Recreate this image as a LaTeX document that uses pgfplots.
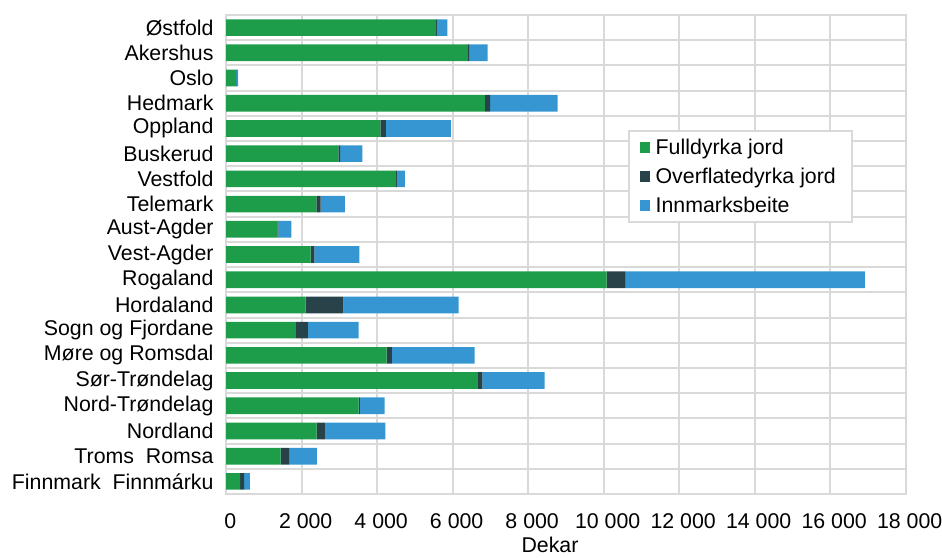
\documentclass[border=0pt]{standalone}
\usepackage{fontspec}
\setmainfont{Liberation Sans}
\usepackage{pgfplots}
\usepackage{pgfplotstable}
\pgfplotsset{compat=1.18}
\definecolor{cgreen}{RGB}{29,156,74}
\definecolor{cdark}{RGB}{40,66,73}
\definecolor{cblue}{RGB}{53,150,210}
\definecolor{cgrid}{RGB}{217,217,217}
\pgfplotstableread{
idx full over innm
1 5558 20 280
2 6405 30 490
3 260 5 50
4 6855 140 1785
5 4082 150 1722
6 2970 45 592
7 4499 25 210
8 2387 116 644
9 1354 26 345
10 2238 96 1193
11 10079 504 6339
12 2105 998 3055
13 1849 318 1342
14 4251 141 2190
15 6670 115 1652
16 3509 35 654
17 2397 220 1597
18 1443 221 741
19 366 106 158
}\data
\newcommand\ff{\fontsize{16}{19}\selectfont}
\begin{document}
\begin{tikzpicture}
\path[use as bounding box] (-169.65pt,-47.25pt) rectangle (536.85pt,370.5pt);
\begin{axis}[
  at={(0,0)}, anchor=south west,
  scale only axis,
  width=509.6pt, height=359.25pt,
  xbar stacked,
  bar width=12.5pt,
  y dir=reverse,
  ymin=0.5, ymax=19.5,
  xmin=0, xmax=18000,
  xtick={0,2000,...,18000},
  xticklabels={0,2\ 000,4\ 000,6\ 000,8\ 000,10\ 000,12\ 000,14\ 000,16\ 000,18\ 000},
  scaled x ticks=false,
  ytick={1,...,19},
  yticklabels={Østfold,Akershus,Oslo,Hedmark,Oppland,Buskerud,Vestfold,Telemark,Aust-Agder,Vest-Agder,Rogaland,Hordaland,Sogn og Fjordane,Møre og Romsdal,Sør-Trøndelag,Nord-Trøndelag,Nordland,Troms\ \ Romsa,Finnmark\ \ Finnmárku},
  minor ytick={1.5,2.5,...,18.5},
  xmajorgrids, yminorgrids,
  major grid style={cgrid, line width=1.5pt},
  minor grid style={cgrid, line width=1.5pt},
  tick style={draw=none},
  minor tick style={draw=none},
  axis line style={cgrid, line width=1.5pt},
  tick label style={font=\ff},
  xticklabel style={yshift=-11pt, xshift=3pt},
  yticklabel style={xshift=-6pt},
  xlabel={Dekar},
  xlabel style={font=\ff, inner sep=0pt, at={(axis description cs:0.4765,0)}, anchor=center, yshift=-38.5pt},
  legend style={at={(0.5913,0.760)}, anchor=north west, draw=cgrid, line width=1.5pt,
    font=\ff, inner xsep=8pt, inner ysep=4pt, row sep=4.5pt},
  legend cell align=left,
  legend image code/.code={\fill[#1] (0pt,-4pt) rectangle (8pt,4pt);},
  every axis legend/.append style={nodes={inner xsep=4pt}},
]
\addplot[fill=cgreen, draw=none] table[x=full, y=idx]{\data};
\addplot[fill=cdark, draw=none] table[x=over, y=idx]{\data};
\addplot[fill=cblue, draw=none] table[x=innm, y=idx]{\data};
\legend{Fulldyrka jord, Overflatedyrka jord, Innmarksbeite}
\end{axis}
\end{tikzpicture}
\end{document}
